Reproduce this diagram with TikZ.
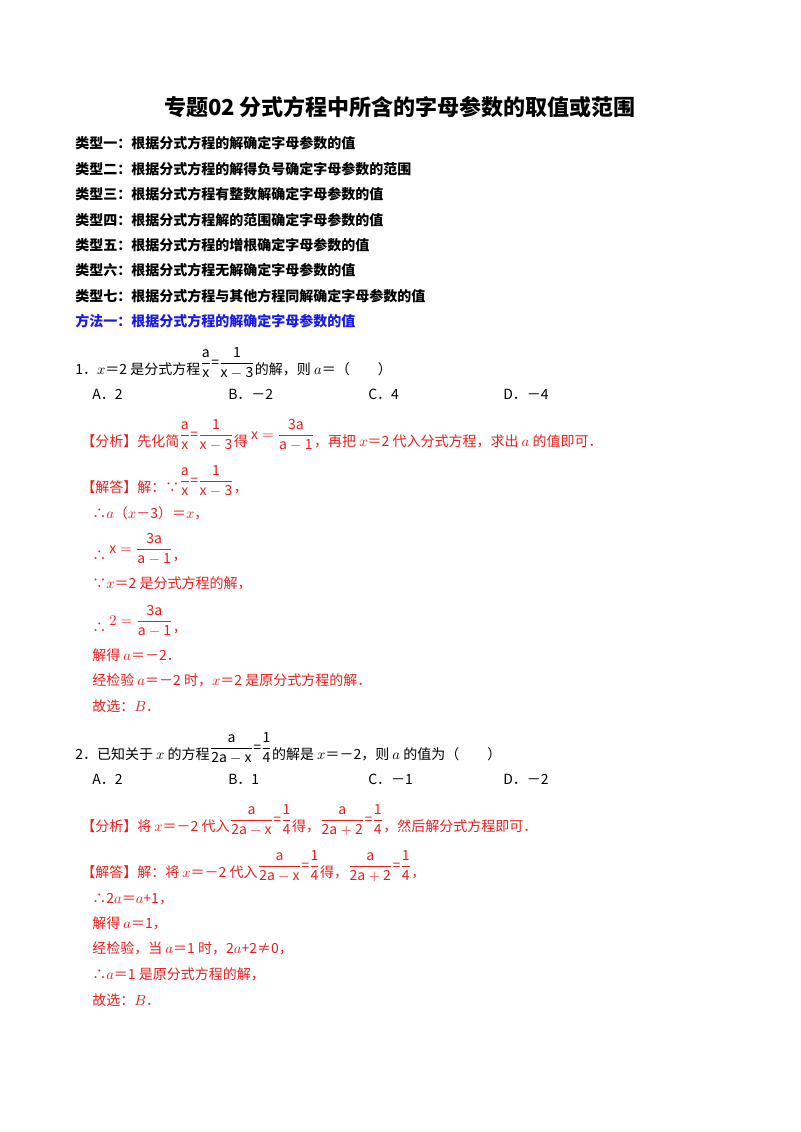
\documentclass[tikz,border=0pt]{standalone}
\usepackage{amsmath}
\usepackage{fontspec}
\setmainfont{Noto Sans CJK SC}
\definecolor{rd}{RGB}{235,30,30}
\definecolor{bl}{RGB}{25,25,235}
\newcommand\fr[2]{\raisebox{0.9ex}{\ensuremath{\dfrac{\mathrm{#1}}{\mathrm{#2}}}}}
\newcommand\eqfr[1]{\raisebox{0.9ex}{\ensuremath{#1=\dfrac{\mathrm{3a}}{\mathrm{a-1}}}}}
\begin{document}
\begin{tikzpicture}[x=0.75pt,y=-0.75pt,
  t/.style={anchor=base west,inner sep=0pt,font=\fontsize{10.5}{12}\selectfont},
  h/.style={t,font=\fontsize{10.5}{12}\selectfont\bfseries},
  r/.style={t,text=rd}]
\useasboundingbox (0,0) rectangle (800,1132);
\fill[white] (0,0) rectangle (800,1132);
\node[anchor=base,inner sep=0pt,font=\fontsize{16.5}{19}\selectfont\bfseries] (title) at (400,115) {专题02\ 分式方程中所含的字母参数的取值或范围};
\node[h] (k1) at (75,148) {类型一：根据分式方程的解确定字母参数的值};
\node[h] (k2) at (75,174) {类型二：根据分式方程的解得负号确定字母参数的范围};
\node[h] (k3) at (75,199) {类型三：根据分式方程有整数解确定字母参数的值};
\node[h] (k4) at (75,225) {类型四：根据分式方程解的范围确定字母参数的值};
\node[h] (k5) at (75,250) {类型五：根据分式方程的增根确定字母参数的值};
\node[h] (k6) at (75,275) {类型六：根据分式方程无解确定字母参数的值};
\node[h] (k7) at (75,301) {类型七：根据分式方程与其他方程同解确定字母参数的值};
\node[h,text=bl] (m1) at (75,326) {方法一：根据分式方程的解确定字母参数的值};
\node[t] (q1) at (75,374) {1．$x$＝2 是分式方程\fr{a}{x}\raisebox{0.9ex}{=}\fr{1}{x-3}的解，则 $a$＝（　　）};
\node[t] (q1a) at (92,399) {A．2};
\node[t] (q1b) at (228,399) {B．－2};
\node[t] (q1c) at (368,399) {C．4};
\node[t] (q1d) at (503,399) {D．－4};
\node[r] (f1) at (81,446) {【分析】先化简\fr{a}{x}\raisebox{0.9ex}{=}\fr{1}{x-3}得 \eqfr{\mathrm{x}}，再把 $x$＝2 代入分式方程，求出 $a$ 的值即可．};
\node[r] (s1) at (81,492) {【解答】解：∵\fr{a}{x}\raisebox{0.9ex}{=}\fr{1}{x-3}，};
\node[r] (s2) at (92,518) {∴$a$（$x$－3）＝$x$，};
\node[r] (s3) at (92,560) {∴ \eqfr{\mathrm{x}}，};
\node[r] (s4) at (92,588) {∵$x$＝2 是分式方程的解，};
\node[r] (s5) at (92,632) {∴ \eqfr{2}，};
\node[r] (s6) at (92,660) {解得 $a$＝－2．};
\node[r] (s7) at (92,685) {经检验 $a$＝－2 时，$x$＝2 是原分式方程的解．};
\node[r] (s8) at (92,711) {故选：$B$．};
\node[t] (q2) at (75,759) {2．已知关于 $x$ 的方程\fr{a}{2a-x}\raisebox{0.9ex}{=}\fr{1}{4}的解是 $x$＝－2，则 $a$ 的值为（　　）};
\node[t] (q2a) at (92,784) {A．2};
\node[t] (q2b) at (228,784) {B．1};
\node[t] (q2c) at (368,784) {C．－1};
\node[t] (q2d) at (503,784) {D．－2};
\node[r] (g1) at (81,831) {【分析】将 $x$＝－2 代入\fr{a}{2a-x}\raisebox{0.9ex}{=}\fr{1}{4}得，\fr{a}{2a+2}\raisebox{0.9ex}{=}\fr{1}{4}，然后解分式方程即可．};
\node[r] (u1) at (81,877) {【解答】解：将 $x$＝－2 代入\fr{a}{2a-x}\raisebox{0.9ex}{=}\fr{1}{4}得，\fr{a}{2a+2}\raisebox{0.9ex}{=}\fr{1}{4}，};
\node[r] (u2) at (92,903) {∴2$a$＝$a$+1，};
\node[r] (u3) at (92,928) {解得 $a$＝1，};
\node[r] (u4) at (92,953) {经检验，当 $a$＝1 时，2$a$+2≠0，};
\node[r] (u5) at (92,979) {∴$a$＝1 是原分式方程的解，};
\node[r] (u6) at (92,1005) {故选：$B$．};
\end{tikzpicture}
\end{document}
